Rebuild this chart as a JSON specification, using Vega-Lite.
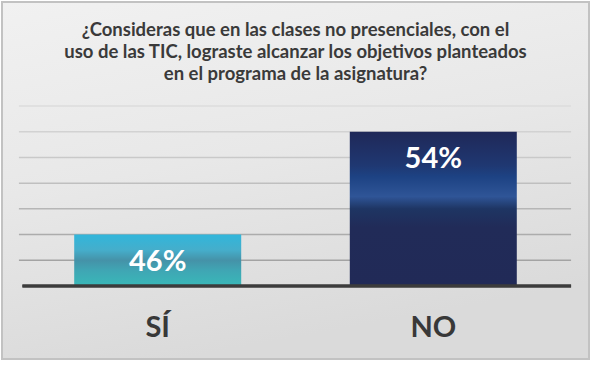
{
  "$schema": "https://vega.github.io/schema/vega-lite/v6.json",
  "width": 587,
  "height": 357,
  "autosize": {"type": "none"},
  "padding": {"left": 2, "top": 2, "right": 8, "bottom": 7},
  "background": "#ffffff",
  "config": {"view": {"stroke": null}, "font": "Lato"},
  "title": {
    "text": ["¿Consideras que en las clases no presenciales, con el", "uso de las TIC, lograste alcanzar los objetivos planteados", "en el programa de la asignatura?"],
    "anchor": "middle",
    "frame": "group",
    "baseline": "top",
    "offset": -82,
    "font": "Lato",
    "fontSize": 18.5,
    "fontWeight": "bold",
    "lineHeight": 22,
    "color": "#3a3a3a",
    "zindex": 1
  },
  "data": {"values": [
    {"cat": "SÍ", "v": 46, "label": "46%"},
    {"cat": "NO", "v": 54, "label": "54%"}
  ]},
  "layer": [
    {
      "data": {"values": [{"panel": 1}]},
      "mark": {
        "type": "rect",
        "stroke": "#c2c2c2",
        "strokeWidth": 2,
        "color": {"gradient": "linear", "x1": 0, "y1": 0, "x2": 0.3, "y2": 1,
          "stops": [{"offset": 0, "color": "#f1f1f1"}, {"offset": 0.5, "color": "#e8e8e8"}, {"offset": 1, "color": "#dadada"}]}
      },
      "encoding": {}
    },
    {
      "data": {"values": [{"g": 44}, {"g": 46}, {"g": 48}, {"g": 50}, {"g": 52}, {"g": 54}, {"g": 56}]},
      "mark": {"type": "rule", "strokeWidth": 1.5},
      "encoding": {
        "y": {"field": "g", "type": "quantitative", "scale": {"domain": [36.32, 64.09], "nice": false, "zero": false}, "axis": null},
        "x": {"datum": "SÍ", "bandPosition": -0.331},
        "x2": {"datum": "NO", "bandPosition": 1.325},
        "color": {"field": "g", "type": "quantitative", "scale": {"domain": [44, 56], "range": ["#a3a3a3", "#dcdcdc"]}, "legend": null}
      }
    },
    {
      "transform": [{"filter": "datum.cat === 'SÍ'"}],
      "mark": {
        "type": "bar",
        "color": {"gradient": "linear", "x1": 0, "y1": 0, "x2": 0, "y2": 1,
          "stops": [
            {"offset": 0, "color": "#31b6db"},
            {"offset": 0.3, "color": "#45aecb"},
            {"offset": 0.5, "color": "#4592a8"},
            {"offset": 0.7, "color": "#3fa6b4"},
            {"offset": 1, "color": "#39b8b8"}
          ]}
      },
      "encoding": {
        "x": {"field": "cat", "type": "nominal", "scale": {"domain": ["SÍ", "NO"], "paddingInner": 0.394, "paddingOuter": 0.262},
          "axis": {"title": null, "labels": false, "domain": false, "ticks": false, "grid": false}},
        "y": {"field": "v", "type": "quantitative"},
        "y2": {"datum": 42}
      }
    },
    {
      "transform": [{"filter": "datum.cat === 'NO'"}],
      "mark": {
        "type": "bar",
        "color": {"gradient": "linear", "x1": 0, "y1": 0, "x2": 0, "y2": 1,
          "stops": [
            {"offset": 0, "color": "#1f2858"},
            {"offset": 0.22, "color": "#1f3872"},
            {"offset": 0.29, "color": "#1d4283"},
            {"offset": 0.42, "color": "#2f5597"},
            {"offset": 0.5, "color": "#1e3563"},
            {"offset": 0.62, "color": "#212b58"},
            {"offset": 1, "color": "#212a57"}
          ]}
      },
      "encoding": {
        "x": {"field": "cat", "type": "nominal"},
        "y": {"field": "v", "type": "quantitative"},
        "y2": {"datum": 42}
      }
    },
    {
      "mark": {"type": "rule", "color": "#3c3c3c", "strokeWidth": 3},
      "encoding": {
        "y": {"datum": 42, "type": "quantitative"},
        "x": {"datum": "SÍ", "bandPosition": -0.31},
        "x2": {"datum": "NO", "bandPosition": 1.325}
      }
    },
    {
      "mark": {"type": "text", "color": "#ffffff", "font": "Lato", "fontSize": 29, "fontWeight": "bold", "baseline": "middle", "dy": 27},
      "encoding": {
        "x": {"field": "cat", "type": "nominal"},
        "y": {"field": "v", "type": "quantitative"},
        "text": {"field": "label"}
      }
    },
    {
      "mark": {"type": "text", "color": "#383838", "font": "Lato", "fontSize": 29, "fontWeight": "bold", "baseline": "middle"},
      "encoding": {
        "x": {"field": "cat", "type": "nominal"},
        "y": {"datum": 38.73, "type": "quantitative"},
        "text": {"field": "cat"}
      }
    }
  ]
}
